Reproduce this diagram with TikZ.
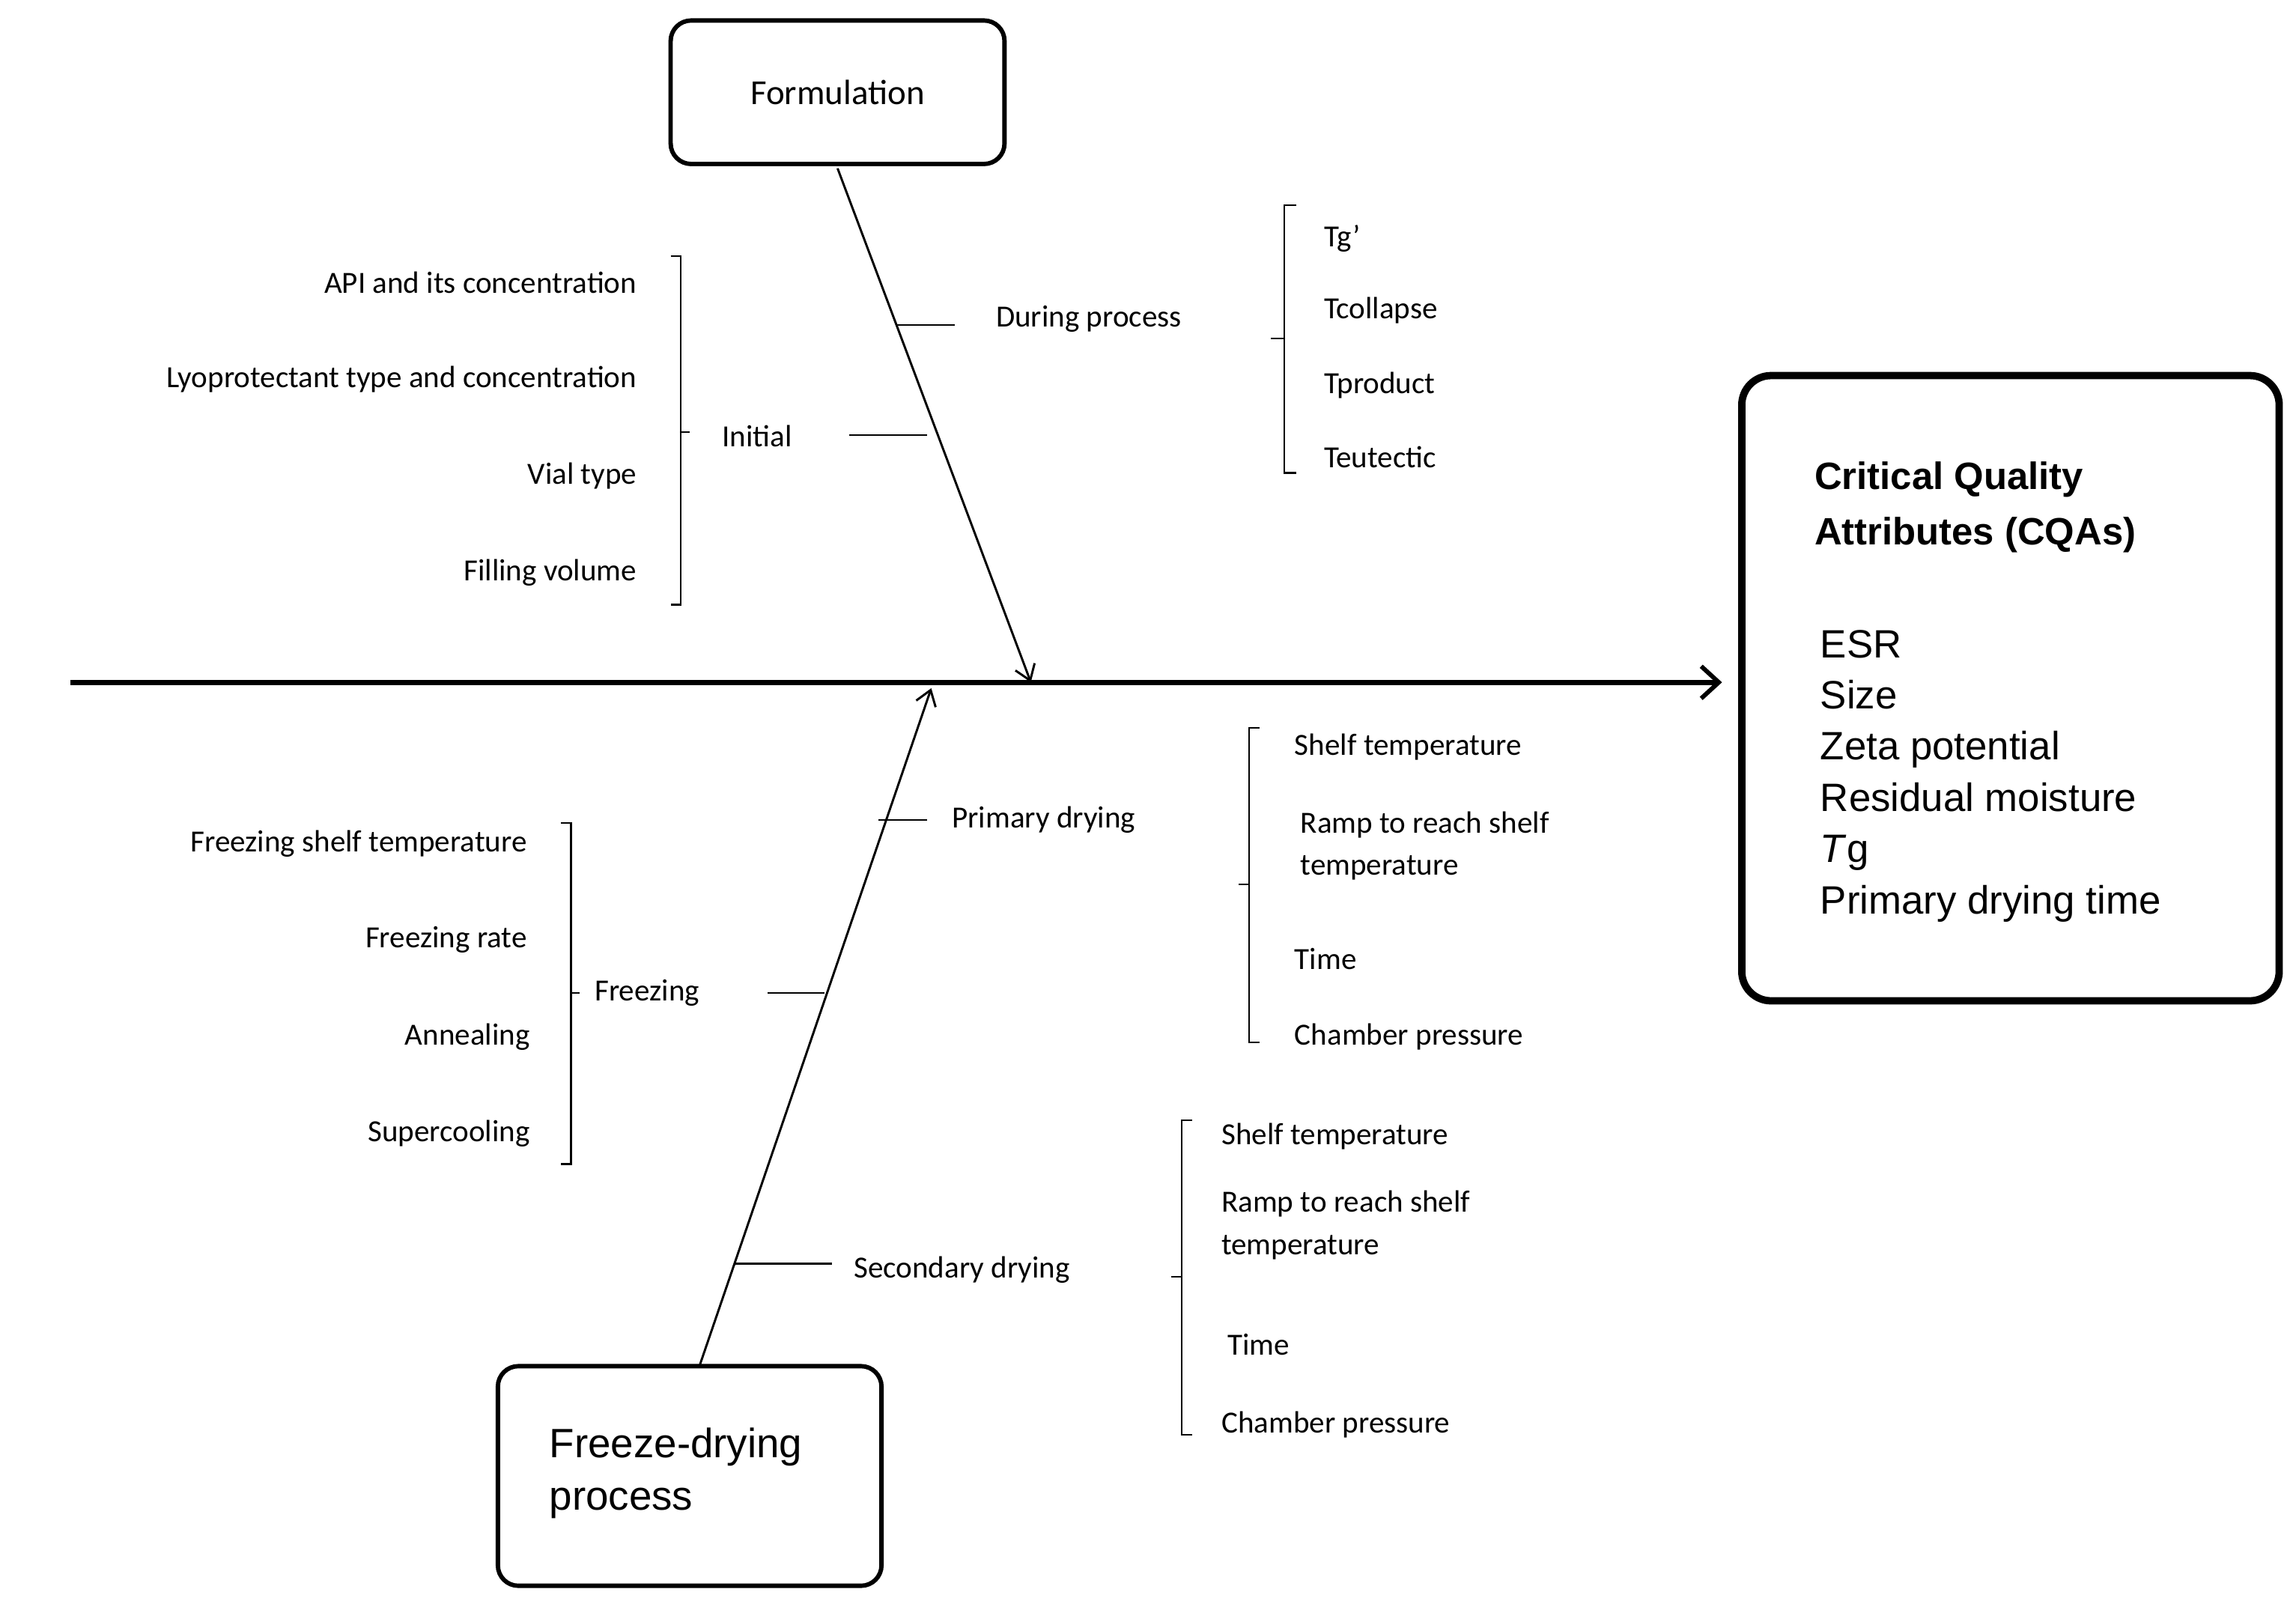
\documentclass[tikz,border=0pt]{standalone}
\usepackage{fontspec}
\setmainfont{Carlito}
\newfontfamily\arialf{Liberation Sans}
\usetikzlibrary{arrows.meta}
\begin{document}
\begin{tikzpicture}[x=1pt,y=-1pt,
  lbl/.style={font=\fontsize{21}{25}\selectfont,inner sep=0pt},
  lbr/.style={lbl,anchor=east},
  lbll/.style={lbl,anchor=west},
  box/.style={draw,rounded corners=14pt},
  br/.style={line width=1.2pt},
  tk/.style={line width=1.2pt}]
\useasboundingbox (0,0) rectangle (1568,1097);
% boxes
\node[box,line width=3pt,minimum width=228pt,minimum height=98pt,font=\fontsize{24}{28}\selectfont] (form) at (572,63) {Formulation};
\node[box,line width=3pt,minimum width=262pt,minimum height=150pt] (fd) at (471,1008) {};
\node[anchor=west,align=left,font=\arialf\fontsize{28}{36}\selectfont,inner sep=0pt] (fdt) at (375,1006) {Freeze-drying\\process};
\node[box,line width=5pt,minimum width=367pt,minimum height=427pt,rounded corners=20pt] (cqa) at (1373,470) {};
\node[anchor=north west,align=left,font=\arialf\bfseries\fontsize{26}{38}\selectfont,inner sep=0pt] (cqat) at (1239,315) {Critical Quality\\Attributes (CQAs)};
\node[anchor=north west,align=left,font=\arialf\fontsize{27}{35}\selectfont,inner sep=0pt] (cqal) at (1243,430) {ESR\\Size\\Zeta potential\\Residual moisture\\\textit{T}g\\Primary drying time};
% spine
\coordinate (s0) at (48,466);
\coordinate (s1) at (1176,466);
\draw[line width=3.5pt,-{Straight Barb[length=12pt,width=22pt,line width=3pt]}] (s0) -- (s1);
\coordinate (fa) at (572,115); \coordinate (fb) at (704,466);
\draw[line width=1.5pt,-{Straight Barb[length=10pt,width=14pt]}] (fa) -- (fb);
\coordinate (ga) at (478,932); \coordinate (gb) at (636,470);
\draw[line width=1.5pt,-{Straight Barb[length=10pt,width=14pt]}] (ga) -- (gb);
% Formulation branches
\node[lbll] (dp) at (680,218) {During process};
\coordinate (dp1) at (612,222); \coordinate (dp2) at (652,222);
\draw[tk] (dp1) -- (dp2);
\draw[br] (885,140) -- (877,140) -- (877,323) -- (885,323);
\draw[br] (877,231) -- (868,231);
\node[lbll] (tg) at (904,163) {Tg’};
\node[lbll] (tc) at (904,212) {Tcollapse};
\node[lbll] (tp) at (904,263) {Tproduct};
\node[lbll] (te) at (904,312) {Teutectic};
\node[lbll] (ini) at (493,298) {Initial};
\coordinate (in1) at (580,297); \coordinate (in2) at (633,297);
\draw[tk] (in1) -- (in2);
\draw[br] (458,175) -- (465,175) -- (465,413) -- (458,413);
\draw[br] (465,295) -- (471,295);
\node[lbr] (i1) at (435,193) {API and its concentration};
\node[lbr] (i2) at (435,259) {Lyoprotectant type and concentration};
\node[lbr] (i3) at (435,325) {Vial type};
\node[lbr] (i4) at (435,391) {Filling volume};
% Freeze-drying branches
\node[lbll] (pd) at (650,560) {Primary drying};
\coordinate (pd1) at (600,560); \coordinate (pd2) at (633,560);
\draw[tk] (pd1) -- (pd2);
\draw[br] (860,497) -- (853,497) -- (853,712) -- (860,712);
\draw[br] (853,604) -- (846,604);
\node[lbll] (p1) at (884,510) {Shelf temperature};
\node[lbll,anchor=north west,align=left,font=\fontsize{21}{29}\selectfont] (p2) at (888,554) {Ramp to reach shelf\\temperature};
\node[lbll] (p3) at (884,655) {Time};
\node[lbll] (p4) at (884,708) {Chamber pressure};
\node[lbll] (fz) at (406,678) {Freezing};
\coordinate (fz1) at (524,678); \coordinate (fz2) at (563,678);
\draw[tk] (fz1) -- (fz2);
\draw[br] (383,562) -- (390,562) -- (390,795) -- (383,795);
\draw[br] (390,678) -- (396,678);
\node[lbr] (f1) at (360,576) {Freezing shelf temperature};
\node[lbr] (f2) at (360,642) {Freezing rate};
\node[lbr] (f3) at (362,708) {Annealing};
\node[lbr] (f4) at (362,774) {Supercooling};
\node[lbll] (sd) at (583,867) {Secondary drying};
\coordinate (sd1) at (502,863); \coordinate (sd2) at (568,863);
\draw[tk] (sd1) -- (sd2);
\draw[br] (814,765) -- (807,765) -- (807,980) -- (814,980);
\draw[br] (807,872) -- (800,872);
\node[lbll] (q1) at (834,776) {Shelf temperature};
\node[lbll,anchor=north west,align=left,font=\fontsize{21}{29}\selectfont] (q2) at (834,813) {Ramp to reach shelf\\temperature};
\node[lbll] (q3) at (838,918) {Time};
\node[lbll] (q4) at (834,973) {Chamber pressure};
\end{tikzpicture}
\end{document}
